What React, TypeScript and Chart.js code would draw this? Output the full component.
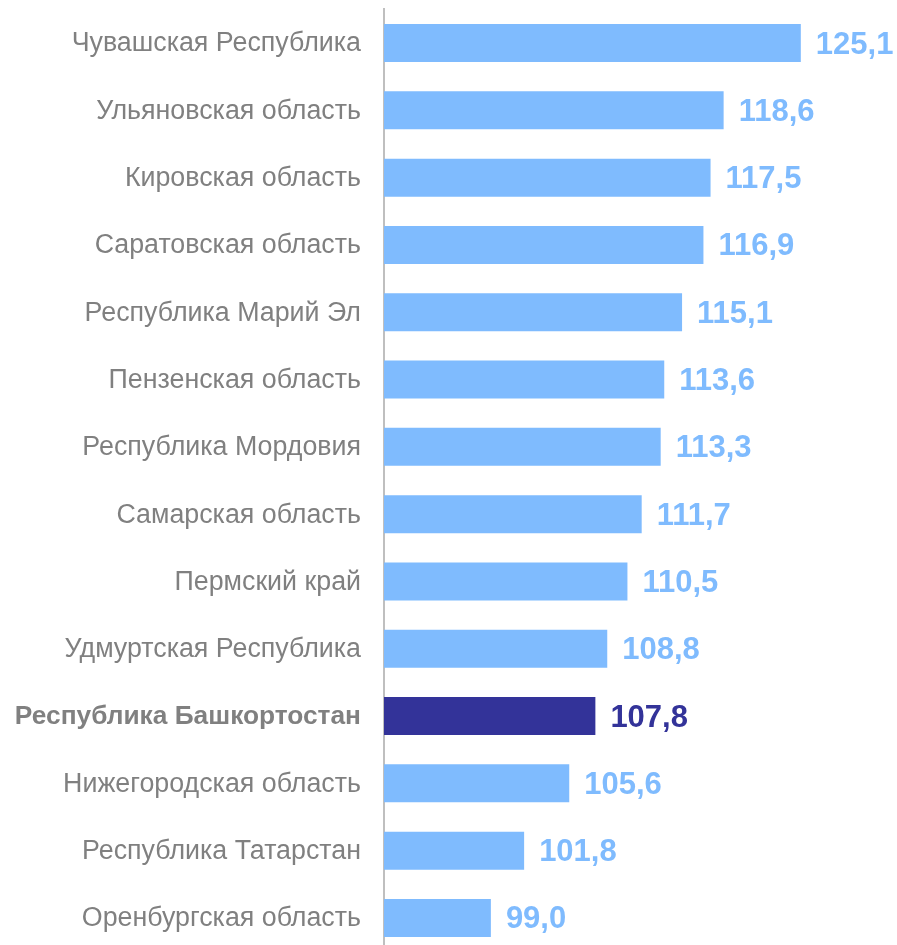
import React, { useEffect, useRef } from "react";
import { Chart, registerables } from "chart.js";

Chart.register(...registerables);

const categories: string[] = [
  "Чувашская Республика",
  "Ульяновская область",
  "Кировская область",
  "Саратовская область",
  "Республика Марий Эл",
  "Пензенская область",
  "Республика Мордовия",
  "Самарская область",
  "Пермский край",
  "Удмуртская Республика",
  "Республика Башкортостан",
  "Нижегородская область",
  "Республика Татарстан",
  "Оренбургская область",
];

const values: number[] = [125.1, 118.6, 117.5, 116.9, 115.1, 113.6, 113.3, 111.7, 110.5, 108.8, 107.8, 105.6, 101.8, 99.0];

const highlightIndex = 10;
const lightBlue = "#7fbbfe";
const darkBlue = "#333399";
const labelGray = "#808080";
const FONT = "'Liberation Sans', Arial, sans-serif";

const valueLabelPlugin = {
  id: "valueLabels",
  afterDatasetsDraw(chart: any) {
    const ctx = chart.ctx;
    const meta = chart.getDatasetMeta(0);
    ctx.save();
    ctx.font = `bold 31px ${FONT}`;
    ctx.textAlign = "left";
    ctx.textBaseline = "middle";
    meta.data.forEach((bar: any, i: number) => {
      ctx.fillStyle = i === highlightIndex ? darkBlue : lightBlue;
      ctx.fillText(values[i].toFixed(1).replace(".", ","), bar.x + 15, bar.y + 2);
    });
    ctx.restore();
  },
};

export default function App() {
  const ref = useRef<HTMLCanvasElement | null>(null);
  useEffect(() => {
    if (!ref.current) return;
    const chart = new Chart(ref.current, {
      type: "bar",
      data: {
        labels: categories,
        datasets: [
          {
            data: values,
            backgroundColor: values.map((_, i) => (i === highlightIndex ? darkBlue : lightBlue)),
            barPercentage: 0.565,
            categoryPercentage: 1,
            borderWidth: 0,
          },
        ],
      },
      options: {
        indexAxis: "y",
        responsive: false,
        animation: false,
        layout: { padding: { top: 9.4, bottom: 8.4, left: 0, right: 38 } },
        plugins: { legend: { display: false }, tooltip: { enabled: false } },
        scales: {
          x: { display: false, min: 90, max: 130 },
          y: {
            afterFit(scale: any) {
              scale.width = 384;
              scale.paddingTop = 0;
              scale.paddingBottom = 0;
            },
            grid: { display: false, drawTicks: false },
            border: { display: true, color: "#bfbfbf", width: 2 },
            ticks: {
              padding: 23,
              labelOffset: 1,
              color: labelGray,
              font: (c: any) => ({
                family: FONT,
                size: c.index === highlightIndex ? 26.3 : 26.8,
                weight: c.index === highlightIndex ? "bold" : "normal",
              }),
            },
          },
        },
      },
      plugins: [valueLabelPlugin],
    });
    return () => chart.destroy();
  }, []);
  return (
    <div style={{ position: "fixed", left: 0, top: 0, width: 897, height: 945, overflow: "hidden", background: "#fff" }}>
      <canvas ref={ref} width={897} height={960} style={{ display: "block" }} />
    </div>
  );
}
